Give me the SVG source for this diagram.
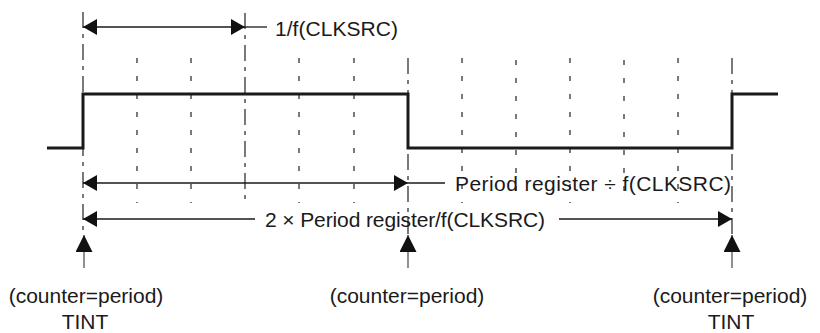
<svg xmlns="http://www.w3.org/2000/svg" width="820" height="333" viewBox="0 0 820 333">
<defs>
<marker id="ah" viewBox="0 0 14 16" refX="14" refY="8" markerWidth="14" markerHeight="16" markerUnits="userSpaceOnUse" orient="auto-start-reverse">
<path d="M0,0 L14,8 L0,16 z" fill="#111"/>
</marker>
<marker id="up" viewBox="0 0 17 17" refX="17" refY="8.5" markerWidth="17" markerHeight="17" markerUnits="userSpaceOnUse" orient="auto">
<path d="M0,0 L17,8.5 L0,17 z" fill="#111"/>
</marker>
<style>
.grid{stroke:#222;stroke-width:1.2;stroke-dasharray:5 13;fill:none}
.edge{stroke:#222;stroke-width:1.2;stroke-dasharray:16 6 4 6;fill:none}
.dim{stroke:#1a1a1a;stroke-width:1.3;fill:none}
.stem{stroke:#555;stroke-width:1.3;fill:none}
.wave{stroke:#1a1a1a;stroke-width:3;fill:none;stroke-linejoin:miter}
text{font-family:"Liberation Sans",Arial,sans-serif;font-size:21px;fill:#1a1a1a}
</style>
</defs>
<g id="grid">
<line class="edge" x1="83" y1="12" x2="83" y2="236"/>
<line class="grid" x1="137" y1="58" x2="137" y2="203"/>
<line class="grid" x1="191" y1="58" x2="191" y2="203"/>
<line class="edge" x1="245" y1="13" x2="245" y2="203"/>
<line class="grid" x1="299" y1="58" x2="299" y2="203"/>
<line class="grid" x1="354" y1="58" x2="354" y2="203"/>
<line class="edge" x1="408" y1="58" x2="408" y2="236"/>
<line class="grid" x1="462" y1="58" x2="462" y2="203"/>
<line class="grid" x1="516" y1="60" x2="516" y2="203"/>
<line class="grid" x1="570" y1="58" x2="570" y2="203"/>
<line class="grid" x1="624" y1="60" x2="624" y2="203"/>
<line class="grid" x1="678" y1="58" x2="678" y2="203"/>
<line class="edge" x1="732" y1="58" x2="732" y2="236"/>
</g>
<g id="waveform">
<path class="wave" d="M47,148 H83 V94 H408 V148 H732 V94 H778"/>
</g>
<g id="connectors">
<line class="dim" x1="83" y1="27" x2="245" y2="27" marker-start="url(#ah)" marker-end="url(#ah)"/>
<line class="dim" x1="245" y1="27" x2="267" y2="27"/>
<line class="dim" x1="83" y1="183" x2="408" y2="183" marker-start="url(#ah)" marker-end="url(#ah)"/>
<line class="dim" x1="408" y1="183" x2="445" y2="183"/>
<line class="dim" x1="255" y1="219" x2="83" y2="219" marker-end="url(#ah)"/>
<line class="dim" x1="559" y1="219" x2="732" y2="219" marker-end="url(#ah)"/>
<line class="stem" x1="84" y1="268" x2="84" y2="235" marker-end="url(#up)"/>
<line class="stem" x1="408" y1="268" x2="408" y2="235" marker-end="url(#up)"/>
<line class="stem" x1="732" y1="268" x2="732" y2="235" marker-end="url(#up)"/>
</g>
<g id="label-clk">
<text x="275" y="36" textLength="123">1/f(CLKSRC)</text>
</g>
<g id="label-period">
<text x="455" y="191" textLength="276" xml:space="preserve">Period register ÷ f(CLKSRC)</text>
</g>
<g id="label-2period">
<text x="265" y="227" textLength="280">2 × Period register/f(CLKSRC)</text>
</g>
<g id="tint-left">
<text x="86" y="303" text-anchor="middle">(counter=period)</text>
<text x="85" y="329" text-anchor="middle">TINT</text>
</g>
<g id="event-mid">
<text x="407" y="303" text-anchor="middle">(counter=period)</text>
</g>
<g id="tint-right">
<text x="730" y="303" text-anchor="middle">(counter=period)</text>
<text x="731" y="329" text-anchor="middle">TINT</text>
</g>
</svg>
